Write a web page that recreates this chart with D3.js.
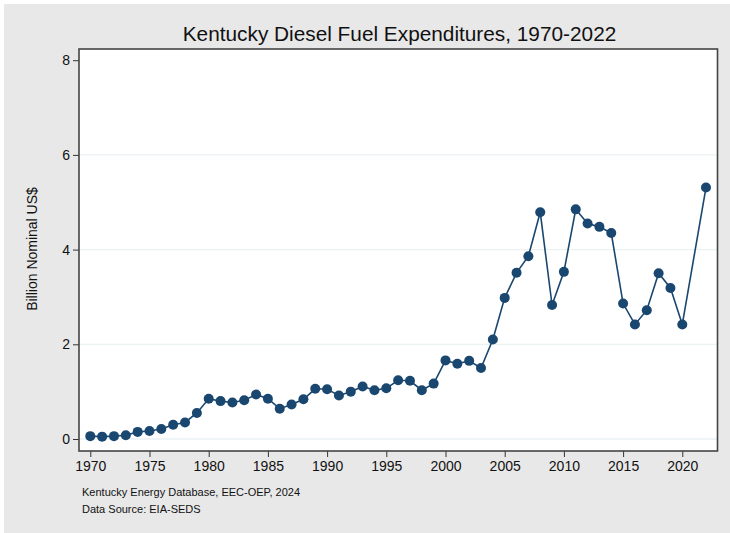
<!DOCTYPE html>
<html>
<head>
<meta charset="utf-8">
<style>
  body { margin: 0; background: #fff; }
  svg { display: block; font-family: "Liberation Sans", Arial, sans-serif; }
</style>
</head>
<body>
<svg width="730" height="533"></svg>
<script src="https://cdn.jsdelivr.net/npm/d3@7"></script>
<script>

// Kentucky diesel fuel expenditures, billion nominal US$ (2021 not reported)
var years = [1970, 1971, 1972, 1973, 1974, 1975, 1976, 1977, 1978, 1979,
             1980, 1981, 1982, 1983, 1984, 1985, 1986, 1987, 1988, 1989,
             1990, 1991, 1992, 1993, 1994, 1995, 1996, 1997, 1998, 1999,
             2000, 2001, 2002, 2003, 2004, 2005, 2006, 2007, 2008, 2009,
             2010, 2011, 2012, 2013, 2014, 2015, 2016, 2017, 2018, 2019,
             2020, 2022];
var values = [0.06, 0.05, 0.06, 0.08, 0.15, 0.17, 0.21, 0.30, 0.35, 0.55,
              0.85, 0.80, 0.77, 0.82, 0.94, 0.85, 0.64, 0.73, 0.84, 1.06,
              1.05, 0.92, 1.00, 1.11, 1.03, 1.07, 1.24, 1.23, 1.03, 1.17,
              1.66, 1.59, 1.65, 1.50, 2.10, 2.98, 3.51, 3.86, 4.79, 2.83,
              3.53, 4.85, 4.55, 4.48, 4.35, 2.86, 2.42, 2.72, 3.50, 3.19,
              2.42, 5.31];
var xTicks = [1970, 1975, 1980, 1985, 1990, 1995, 2000, 2005, 2010, 2015, 2020];
var yTicks = [0, 2, 4, 6, 8];
var gridTicks = [0, 2, 4, 6];

var svg = d3.select("svg"),
    width = +svg.attr("width"),
    height = +svg.attr("height");

var box = {left: 79, right: 717.5, top: 49, bottom: 451};
var navy = "#1a476f";

var data = years.map(function(y, i) { return {year: y, value: values[i]}; });

// gray page with a thin white margin at top and left
svg.append("rect").attr("width", width).attr("height", height).attr("fill", "#fff");
svg.append("rect")
    .attr("x", 4).attr("y", 4)
    .attr("width", width - 4).attr("height", height - 4)
    .attr("fill", "#e8e8e8");

svg.append("rect")
    .attr("x", box.left).attr("y", box.top)
    .attr("width", box.right - box.left).attr("height", box.bottom - box.top)
    .attr("fill", "#fff");

var x = d3.scaleLinear().domain([1970, 2020]).range([90.3, 682.3]);
var y = d3.scaleLinear().domain([0, 8]).range([439, 60.2]);

svg.append("g")
  .selectAll("line")
  .data(gridTicks)
  .enter().append("line")
    .attr("x1", box.left).attr("x2", box.right)
    .attr("y1", function(d) { return y(d); })
    .attr("y2", function(d) { return y(d); })
    .attr("stroke", "#eaf2f3")
    .attr("stroke-width", 1.3);

// axes
var yAxis = svg.append("g")
    .attr("transform", "translate(" + box.left + ",0)")
    .call(d3.axisLeft(y).tickValues(yTicks).tickSize(6).tickPadding(3).tickFormat(d3.format("d")));
yAxis.select(".domain").remove();

var xAxis = svg.append("g")
    .attr("transform", "translate(0," + box.bottom + ")")
    .call(d3.axisBottom(x).tickValues(xTicks).tickSize(6).tickPadding(4).tickFormat(d3.format("d")));
xAxis.select(".domain").remove();

svg.selectAll(".tick line").attr("stroke", "#333").attr("stroke-width", 1);
svg.selectAll(".tick text")
    .attr("fill", "#111")
    .style("font-size", "14px")
    .style("font-family", "'Liberation Sans', Arial, sans-serif");

// frame
svg.append("rect")
    .attr("x", box.left).attr("y", box.top)
    .attr("width", box.right - box.left).attr("height", box.bottom - box.top)
    .attr("fill", "none")
    .attr("stroke", "#444")
    .attr("stroke-width", 1.6);

// series
var line = d3.line()
    .x(function(d) { return x(d.year); })
    .y(function(d) { return y(d.value); });

svg.append("path")
    .datum(data)
    .attr("d", line)
    .attr("fill", "none")
    .attr("stroke", navy)
    .attr("stroke-width", 1.6);

svg.append("g")
  .selectAll("circle")
  .data(data)
  .enter().append("circle")
    .attr("cx", function(d) { return x(d.year); })
    .attr("cy", function(d) { return y(d.value); })
    .attr("r", 5)
    .attr("fill", navy);

// text
svg.append("text")
    .attr("x", 399.5).attr("y", 40.5)
    .attr("text-anchor", "middle")
    .attr("fill", "#111")
    .style("font-size", "20.8px")
    .text("Kentucky Diesel Fuel Expenditures, 1970-2022");

svg.append("text")
    .attr("transform", "translate(37,249) rotate(-90)")
    .attr("text-anchor", "middle")
    .attr("fill", "#111")
    .style("font-size", "14px")
    .text("Billion Nominal US$");

svg.append("text")
    .attr("x", 82).attr("y", 496)
    .attr("fill", "#111")
    .style("font-size", "11px")
    .text("Kentucky Energy Database, EEC-OEP, 2024");

svg.append("text")
    .attr("x", 82).attr("y", 513)
    .attr("fill", "#111")
    .style("font-size", "11px")
    .text("Data Source: EIA-SEDS");

</script>
</body>
</html>
